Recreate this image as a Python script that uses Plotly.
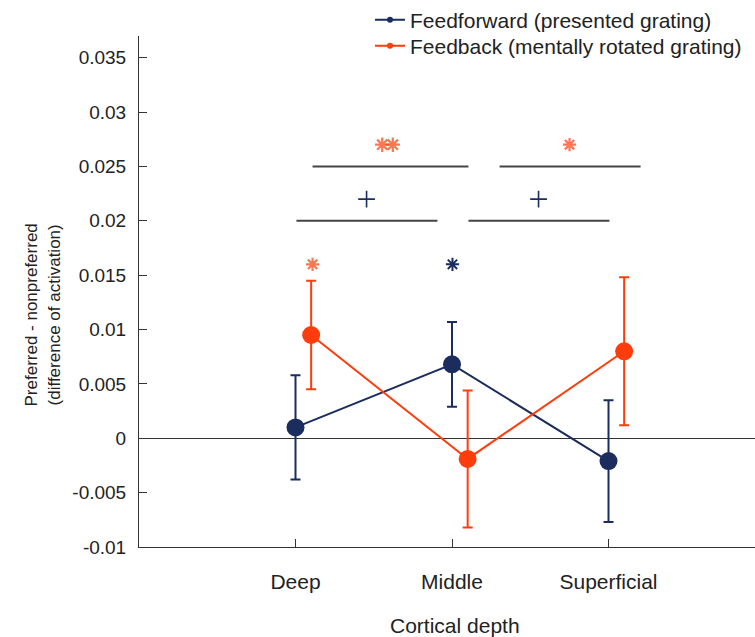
import plotly.graph_objects as go

categories = ["Deep", "Middle", "Superficial"]
x_pos = [1, 2, 3]
fb_offset = 0.1

ff_name = "Feedforward (presented grating)"
ff_mean = [0.001, 0.0068, -0.0021]
ff_err = [0.0048, 0.0039, 0.0056]

fb_name = "Feedback (mentally rotated grating)"
fb_mean = [0.0095, -0.0019, 0.0080]
fb_err = [0.0050, 0.0063, 0.0068]

y_ticks = [-0.01, -0.005, 0, 0.005, 0.01, 0.015, 0.02, 0.025, 0.03, 0.035]
y_tick_text = ["-0.01", "-0.005", "0", "0.005", "0.01", "0.015", "0.02", "0.025", "0.03", "0.035"]

# significance bars: (x0, x1, y)
sig_lines = [
    (1.109, 2.105, 0.025),
    (2.304, 3.205, 0.025),
    (1.006, 1.907, 0.020),
    (2.105, 3.006, 0.020),
]
fb_star_x = [1.554, 1.622, 2.751, 1.109]
fb_star_y = [0.027, 0.027, 0.027, 0.016]
fb_star_size = [12, 12, 11, 11]
ff_star_x = [2.003]
ff_star_y = [0.016]
ff_plus_x = [1.454, 2.553]
ff_plus_y = [0.022, 0.022]

NAVY = "#1b2d5f"
ORANGE = "#ff3c0c"
FONT = "Liberation Sans, Arial, sans-serif"

fig = go.Figure()

fig.add_trace(go.Scatter(
    x=x_pos, y=ff_mean, mode="lines+markers", showlegend=False,
    line=dict(color=NAVY, width=2),
    marker=dict(color=NAVY, size=18),
    error_y=dict(type="data", array=ff_err, color=NAVY, thickness=2, width=5),
))
fb_x = [v + fb_offset for v in x_pos]
fig.add_trace(go.Scatter(
    x=fb_x, y=fb_mean, mode="lines+markers", showlegend=False,
    line=dict(color=ORANGE, width=2),
    marker=dict(color=ORANGE, size=18),
    error_y=dict(type="data", array=fb_err, color=ORANGE, thickness=2, width=5),
))

# legend-only traces (each in its own legend box)
fig.add_trace(go.Scatter(x=[None], y=[None], mode="lines+markers", name=ff_name,
                         legend="legend",
                         line=dict(color=NAVY, width=2), marker=dict(color=NAVY, size=6)))
fig.add_trace(go.Scatter(x=[None], y=[None], mode="lines+markers", name=fb_name,
                         legend="legend2",
                         line=dict(color=ORANGE, width=2), marker=dict(color=ORANGE, size=6)))

# significance markers
fig.add_trace(go.Scatter(x=fb_star_x, y=fb_star_y, mode="markers", showlegend=False,
                         marker=dict(symbol="asterisk-open", size=fb_star_size, color=ORANGE,
                                     line=dict(color=ORANGE, width=2.2))))
fig.add_trace(go.Scatter(x=ff_star_x, y=ff_star_y, mode="markers", showlegend=False,
                         marker=dict(symbol="asterisk-open", size=11, color=NAVY,
                                     line=dict(color=NAVY, width=2))))
fig.add_trace(go.Scatter(x=ff_plus_x, y=ff_plus_y, mode="markers", showlegend=False,
                         marker=dict(symbol="cross-thin-open", size=12, color=NAVY,
                                     line=dict(color=NAVY, width=1.6))))

for x0, x1, y in sig_lines:
    fig.add_shape(type="line", x0=x0, x1=x1, y0=y, y1=y, xref="x", yref="y",
                  line=dict(color="#444444", width=2))

fig.add_annotation(text="Preferred - nonpreferred<br>(difference of activation)",
                   xref="paper", yref="paper", x=0, y=0.454, xanchor="right", yanchor="middle",
                   xshift=-74, textangle=-90, showarrow=False,
                   font=dict(family=FONT, size=17, color="#222222"))
fig.add_annotation(text="Cortical depth", xref="x", yref="paper", x=2.02, y=0,
                   yanchor="middle", yshift=-78, showarrow=False,
                   font=dict(family=FONT, size=21, color="#222222"))

legend_common = dict(xanchor="left", yanchor="middle",
                     font=dict(family=FONT, size=21, color="#222222"),
                     bgcolor="rgba(0,0,0,0)", borderwidth=0)

fig.update_layout(
    width=755, height=637,
    margin=dict(l=139, r=0, t=36, b=90, autoexpand=False),
    paper_bgcolor="white", plot_bgcolor="white",
    font=dict(family=FONT, color="#222222"),
    showlegend=True,
    legend=dict(x=0.375, y=1 + (36 - 20) / 511, **legend_common),
    legend2=dict(x=0.375, y=1 + (36 - 46) / 511, **legend_common),
    xaxis=dict(range=[0, 3.936], tickvals=x_pos, ticktext=categories,
               showgrid=False, zeroline=False, showline=True, linecolor="#333333",
               linewidth=1, ticks="inside", ticklen=8, tickcolor="#333333",
               ticklabelstandoff=16,
               tickfont=dict(family=FONT, size=21, color="#222222")),
    yaxis=dict(range=[-0.01, 0.037], tickvals=y_ticks, ticktext=y_tick_text,
               showgrid=False, zeroline=True, zerolinecolor="#333333", zerolinewidth=1,
               showline=True, linecolor="#333333", linewidth=1,
               ticks="inside", ticklen=8, tickcolor="#333333",
               ticklabelstandoff=8,
               tickfont=dict(family=FONT, size=19, color="#222222")),
)

fig.write_html("out.html", config={"displayModeBar": False},
               post_script="document.body.style.margin='0';document.body.style.overflow='hidden';")
